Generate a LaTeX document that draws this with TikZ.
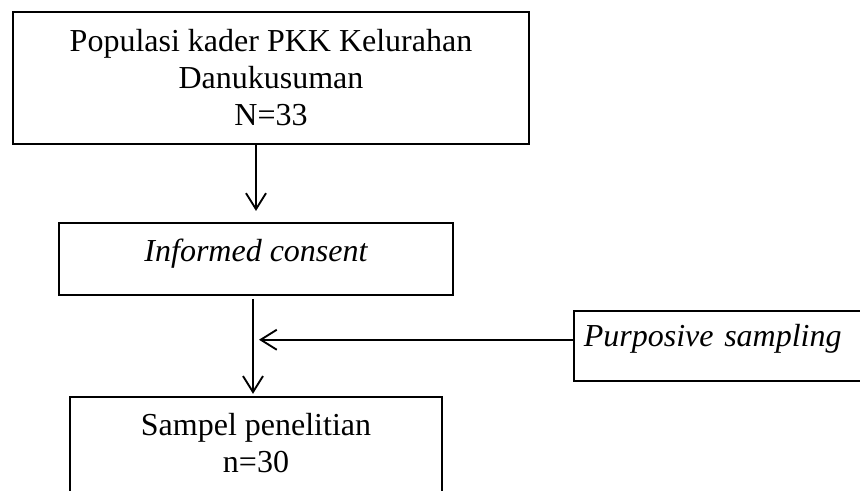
\documentclass[tikz,border=0pt]{standalone}
\usepackage{fontspec}
\setmainfont{Liberation Serif}
\usepackage{tikz}
\usetikzlibrary{arrows.meta, positioning, calc}

\begin{document}
\begin{tikzpicture}[
                x=0.75pt, y=-0.75pt,
                box/.style={draw, line width=1.4pt, align=center, inner sep=0pt, font=\fontsize{24}{27.75}\selectfont},
                arr/.style={-{Straight Barb[length=12pt, width=15pt, line width=1.4pt]}, line width=1.4pt}
            ]
            \path[use as bounding box, fill=white] (0,0) rectangle (860,490);
            \clip (0,0) rectangle (860,490);
            \node[box, minimum width=387pt, minimum height=99pt] (pop) at (271,78) {Populasi kader PKK Kelurahan\\Danukusuman\\N=33};
            \node[box, below=57.75pt of pop, xshift=-11.25pt, minimum width=295.5pt, text height=29.25pt, text depth=24.75pt] (cons) {\itshape Informed consent};
            \node[box, below right=10.5pt and 89.25pt of cons, text width=216pt, align=left, inner xsep=7.5pt, text height=27pt, text depth=25.5pt] (purp) {\itshape Purposive sampling};
            \node[box, below=75pt of cons, minimum width=279pt, text height=57pt, text depth=38.25pt] (samp) {Sampel penelitian\\n=30};
            \draw[arr] (pop.south -| cons) -- ([yshift=8.25pt]cons.north);
            \draw[arr] ([xshift=-2.25pt, yshift=-2.25pt]cons.south) -- ([xshift=-2.25pt, yshift=1.5pt]cons.south |- samp.north);
            \draw[arr] ([yshift=4.5pt]purp.west) -- ([yshift=4.5pt, xshift=2.25pt]purp.west -| cons.south);
        \end{tikzpicture}
\end{document}
